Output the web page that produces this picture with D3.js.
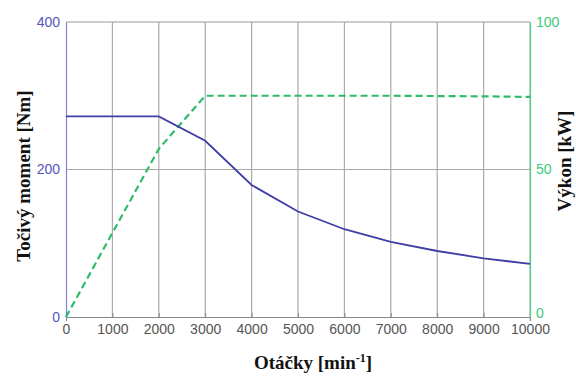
<!DOCTYPE html>
<html lang="cs">
<head>
<meta charset="UTF-8">
<title>Točivý moment a výkon</title>
<script src="https://cdn.jsdelivr.net/npm/d3@7"></script>
<style>
  body { margin: 0; background: #fff; }
  .tick text { font-family: "Liberation Sans", Arial, sans-serif; font-size: 14px; }
  .ttl { font-family: "Liberation Serif", "Times New Roman", serif; font-weight: bold; font-size: 19px; fill: #111; }
</style>
</head>
<body>
<svg id="chart" width="576" height="376"></svg>
<script>
// otacky (rpm)
var rpm = [0, 1000, 2000, 3000, 4000, 5000, 6000, 7000, 8000, 9000, 10000]
// tocivy moment [Nm]
var torque = [272, 272, 272, 239, 179, 143, 119, 102, 89.5, 79.6, 72]
// vykon [kW]
var power = [0, 28.5, 57, 75, 75, 75, 75, 75, 74.9, 74.8, 74.6]
var xTicks = [0, 1000, 2000, 3000, 4000, 5000, 6000, 7000, 8000, 9000, 10000]
var leftTicks = [0, 200, 400]
var rightTicks = [0, 50, 100]

var svg = d3.select('#chart')
var m = { l: 66, r: 46, t: 22, b: 59 }
var W = 576, H = 376

var x = d3.scaleLinear().domain([0, 10000]).range([m.l, W - m.r])
var yL = d3.scaleLinear().domain([0, 400]).range([H - m.b, m.t])
var yR = d3.scaleLinear().domain([0, 100]).range([H - m.b, m.t])

// mrizka
svg.append('g').selectAll('line').data(xTicks.slice(1)).join('line')
  .attr('x1', d => x(d)).attr('x2', d => x(d))
  .attr('y1', yL(0)).attr('y2', yL(400))
  .attr('stroke', '#aaa').attr('stroke-width', 1.2)
svg.append('line')
  .attr('x1', x(0)).attr('x2', x(10000))
  .attr('y1', yL(200)).attr('y2', yL(200))
  .attr('stroke', '#aaa').attr('stroke-width', 1.2)
svg.append('line')
  .attr('x1', x(0)).attr('x2', x(10000))
  .attr('y1', yL(400)).attr('y2', yL(400))
  .attr('stroke', '#999').attr('stroke-width', 1.2)

// osa x
var gx = svg.append('g').attr('transform', 'translate(0,' + yL(0) + ')')
  .call(d3.axisBottom(x).tickValues(xTicks).tickSize(4).tickPadding(3).tickFormat(d3.format('d')))
gx.select('.domain').attr('stroke', '#888').attr('stroke-width', 1.2)
gx.selectAll('.tick line').attr('stroke', '#888').attr('y2', -4)
gx.selectAll('.tick text').attr('fill', '#555')

// leva osa
var gl = svg.append('g').attr('transform', 'translate(' + x(0) + ',0)')
  .call(d3.axisLeft(yL).tickValues(leftTicks).tickSize(0).tickPadding(6))
gl.select('.domain').attr('stroke', '#8080d8').attr('stroke-width', 1.2)
gl.selectAll('.tick text').attr('fill', '#5555bb')

// prava osa
var gr = svg.append('g').attr('transform', 'translate(' + x(10000) + ',0)')
  .call(d3.axisRight(yR).tickValues(rightTicks).tickSize(0).tickPadding(6))
gr.select('.domain').attr('stroke', '#4cd488').attr('stroke-width', 1.2)
gr.selectAll('.tick text').attr('fill', '#3cc878')
gr.selectAll('.tick').filter(d => d === 0).select('text').attr('dy', '0.05em')

// krivky
var lineT = d3.line().x((d, i) => x(rpm[i])).y(d => yL(d))
var lineP = d3.line().x((d, i) => x(rpm[i])).y(d => yR(d))

svg.append('path').attr('d', lineP(power))
  .attr('fill', 'none').attr('stroke', '#2dbd6a').attr('stroke-width', 2.2)
  .attr('stroke-dasharray', '7,4')
svg.append('path').attr('d', lineT(torque))
  .attr('fill', 'none').attr('stroke', '#3e3ea6').attr('stroke-width', 1.8)

// popisky os
svg.append('text').attr('class', 'ttl')
  .attr('transform', 'translate(30,176) rotate(-90)')
  .attr('text-anchor', 'middle').text('Točivý moment [Nm]')
svg.append('text').attr('class', 'ttl')
  .attr('transform', 'translate(571,161) rotate(-90)')
  .attr('text-anchor', 'middle').text('Výkon [kW]')
var xt = svg.append('text').attr('class', 'ttl')
  .attr('x', 313).attr('y', 369).attr('text-anchor', 'middle')
xt.append('tspan').text('Otáčky [min')
xt.append('tspan').attr('dy', -7).attr('font-size', 12).text('-1')
xt.append('tspan').attr('dy', 7).text(']')
</script>
</body>
</html>
